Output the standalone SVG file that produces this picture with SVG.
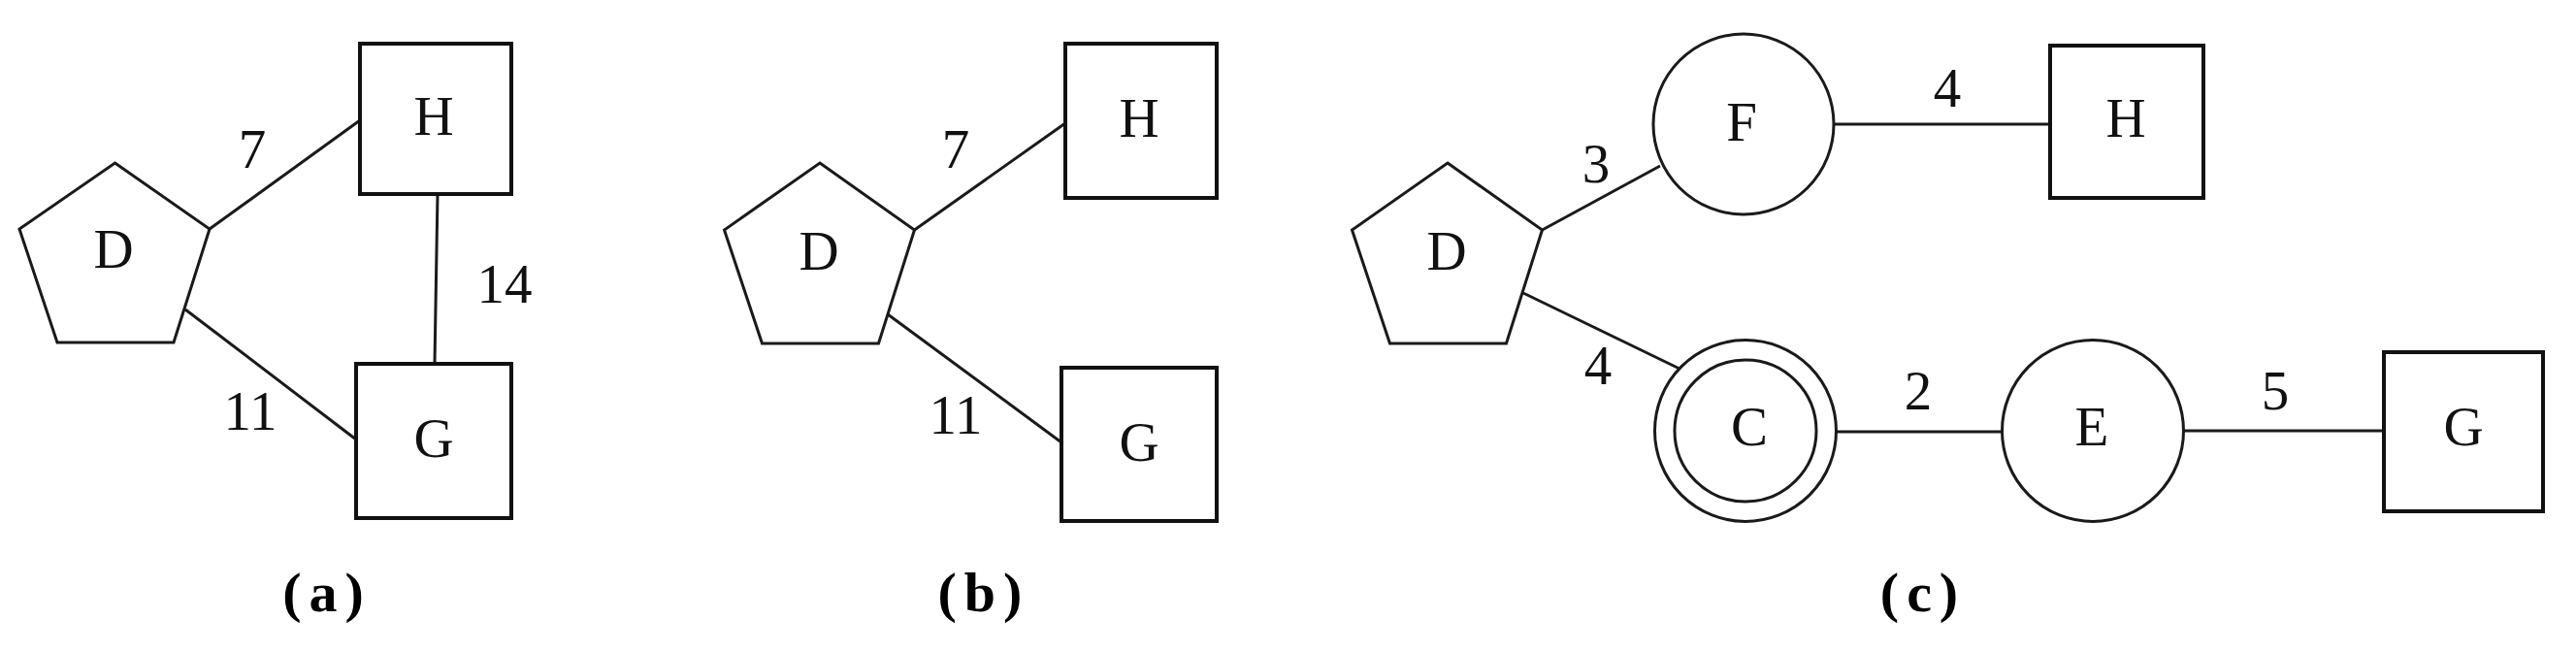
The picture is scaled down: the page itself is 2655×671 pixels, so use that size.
<svg xmlns="http://www.w3.org/2000/svg" width="2655" height="671" viewBox="0 0 2655 671">
<style>
.shape{fill:#fff;stroke:#1a1a1a;stroke-width:3}
.box{fill:#fff;stroke:#111;stroke-width:4}
.edge{stroke:#1a1a1a;stroke-width:3;fill:none}
.lbl{font-family:"Liberation Serif","Times New Roman",serif;font-size:57px;fill:#111;text-anchor:middle}
.cap{font-family:"Liberation Serif","Times New Roman",serif;font-size:58px;font-weight:bold;fill:#000;text-anchor:middle;letter-spacing:8px}
</style>
<rect width="2655" height="671" fill="#fff"/>
<g id="connectors">
<line class="edge" x1="216" y1="236" x2="371" y2="124"/>
<line class="edge" x1="191" y1="319" x2="367" y2="453"/>
<line class="edge" x1="451" y1="200" x2="448" y2="375"/>
<line class="edge" x1="942.5" y1="237" x2="1098" y2="127"/>
<line class="edge" x1="915" y1="324" x2="1094" y2="456"/>
<line class="edge" x1="1589.5" y1="237" x2="1711" y2="171"/>
<line class="edge" x1="1570" y1="302" x2="1731" y2="380"/>
<line class="edge" x1="1890" y1="128" x2="2113" y2="128"/>
<line class="edge" x1="1893" y1="445" x2="2063" y2="445"/>
<line class="edge" x1="2251" y1="444" x2="2457" y2="444"/>
<text class="lbl" x="260" y="173">7</text>
<text class="lbl" x="258" y="443">11</text>
<text class="lbl" x="520" y="312">14</text>
<text class="lbl" x="985" y="173">7</text>
<text class="lbl" x="985" y="447">11</text>
<text class="lbl" x="1645" y="188">3</text>
<text class="lbl" x="1647" y="396">4</text>
<text class="lbl" x="2007" y="110">4</text>
<text class="lbl" x="1977" y="422">2</text>
<text class="lbl" x="2345" y="422">5</text>
</g>
<g id="a-D">
<polygon class="shape" points="118.5,168 216,236 179,353 59,353 20,236"/>
<text class="lbl" x="117" y="276">D</text>
</g>
<g id="a-H">
<rect class="box" x="371" y="45" width="156" height="155"/>
<text class="lbl" x="447" y="139">H</text>
</g>
<g id="a-G">
<rect class="box" x="367" y="375" width="160" height="159"/>
<text class="lbl" x="447" y="471">G</text>
</g>
<g id="b-D">
<polygon class="shape" points="845,168 942.5,237 905.5,354 785.5,354 746.5,237"/>
<text class="lbl" x="844" y="278">D</text>
</g>
<g id="b-H">
<rect class="box" x="1098" y="45" width="156" height="159"/>
<text class="lbl" x="1174" y="141">H</text>
</g>
<g id="b-G">
<rect class="box" x="1094" y="379" width="160" height="158"/>
<text class="lbl" x="1174" y="475">G</text>
</g>
<g id="c-D">
<polygon class="shape" points="1492,168 1589.5,237 1552.5,354 1432.5,354 1393.5,237"/>
<text class="lbl" x="1491" y="278">D</text>
</g>
<g id="c-F">
<circle class="shape" cx="1797" cy="128" r="93"/>
<text class="lbl" x="1795" y="145">F</text>
</g>
<g id="c-H">
<rect class="box" x="2113" y="47" width="158" height="157"/>
<text class="lbl" x="2191" y="141">H</text>
</g>
<g id="c-C">
<circle class="shape" cx="1799" cy="444" r="93.5"/>
<circle class="shape" cx="1799" cy="444" r="73"/>
<text class="lbl" x="1803" y="459">C</text>
</g>
<g id="c-E">
<circle class="shape" cx="2157" cy="444" r="93.5"/>
<text class="lbl" x="2156" y="459">E</text>
</g>
<g id="c-G">
<rect class="box" x="2457" y="363" width="164" height="164"/>
<text class="lbl" x="2539" y="459">G</text>
</g>
<g id="captions">
<text class="cap" x="337" y="630">(a)</text>
<text class="cap" x="1014" y="630">(b)</text>
<text class="cap" x="1982" y="630">(c)</text>
</g>
</svg>
